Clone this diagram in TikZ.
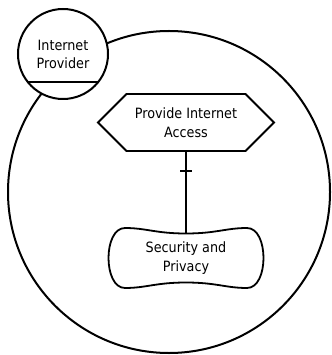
\documentclass[tikz,border=0pt]{standalone}
\usepackage{fontspec}
\setmainfont{DejaVu Sans Condensed}
\usetikzlibrary{calc, positioning}
\usetikzlibrary{shapes.symbols}
\tikzset{
    world/.style={draw, circle, line width=2pt, minimum size=322pt},
    provider/.style={draw, circle, line width=2pt, fill=white, minimum size=90pt,
      align=center, font=\fontsize{14.2}{18}\selectfont},
    activity/.style={draw, shape=signal, signal to=west and east, signal pointer angle=90,
      line width=1.8pt, minimum width=176pt, minimum height=57pt, inner sep=0pt,
      align=center, font=\fontsize{14.2}{19}\selectfont},
    concern/.style={rectangle, minimum width=154pt, minimum height=49pt, inner sep=0pt,
      align=center, font=\fontsize{14.2}{19}\selectfont}
}

\begin{document}
\begin{tikzpicture}[x=1pt, y=-1pt, on grid, auto]
      \useasboundingbox (0,0) rectangle (331,355);
      \node[world] (sys) at (169,192) {};
      \node[provider] (prov) [above left = 138pt and 106pt of sys] {Internet\\Provider};
      \draw[line width=2pt] ($(prov.center)+(-35.5,28)$) -- ($(prov.center)+(35.5,28)$);

      \node[activity] (acc) at (186,122.5) {Provide Internet\\Access};
      \node[concern] (sec) [below = 135.5pt of acc] {Security and\\Privacy};
      % wavy outline round the concern
      \draw[line width=1.8pt, shift={(sec.center)}]
        (-61,-30) .. controls (-40,-30) and (-30,-24.5) .. (0,-24.5)
          .. controls (30,-24.5) and (40,-30) .. (61,-30)
          .. controls (83,-30) and (83,30) .. (61,30)
          .. controls (40,30) and (30,24.5) .. (0,24.5)
          .. controls (-30,24.5) and (-40,30) .. (-61,30)
          .. controls (-83,30) and (-83,-30) .. (-61,-30) -- cycle;

      \draw[line width=2pt] (acc.south) -- coordinate[pos=0.24] (tk) (sec.north);
      \draw[line width=2pt] ($(tk)+(-6,0)$) -- ($(tk)+(6,0)$);
     \end{tikzpicture}
\end{document}
